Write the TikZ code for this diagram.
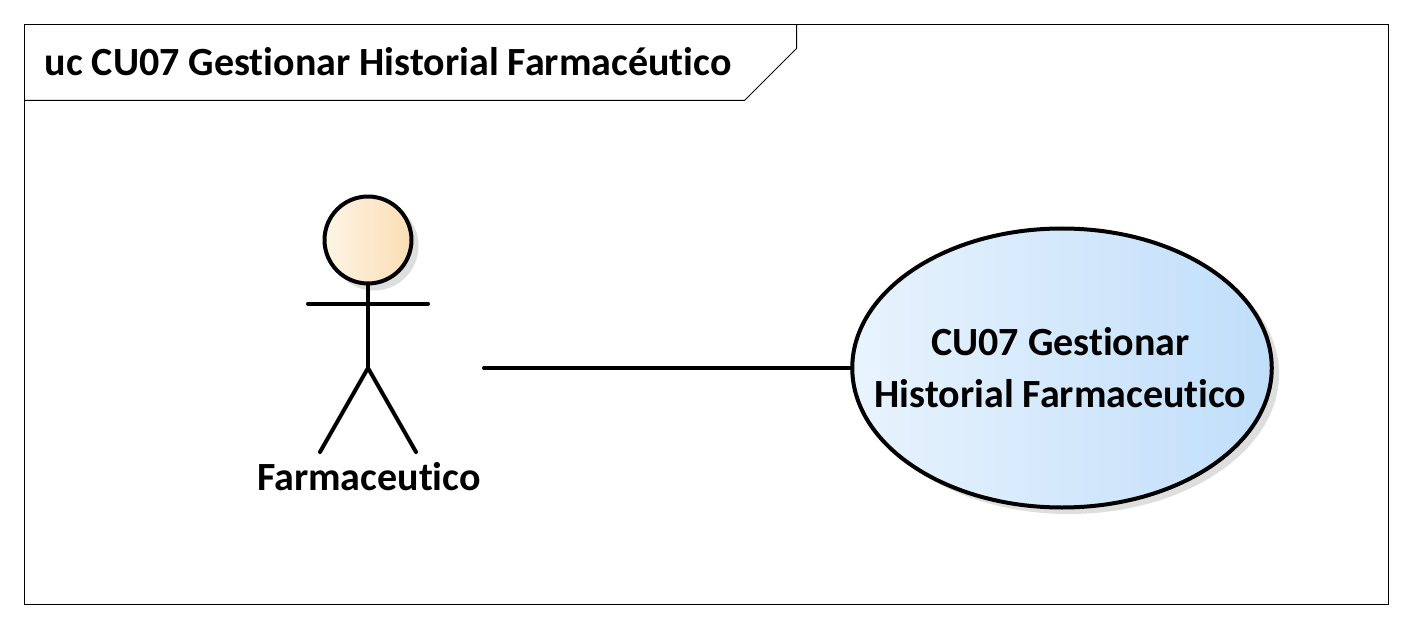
\documentclass[tikz,border=0pt]{standalone}
\usepackage{fontspec}
\setmainfont[Ligatures=NoCommon]{Carlito}
\usetikzlibrary{positioning,shapes.geometric,shadings}
\definecolor{actorleft}{RGB}{254,244,230}
\definecolor{actorfill}{RGB}{250,222,180}
\definecolor{useleft}{RGB}{232,243,253}
\definecolor{usefill}{RGB}{192,222,250}
\definecolor{shadowgray}{RGB}{222,222,222}
\begin{document}
\begin{tikzpicture}[x=1pt,y=-1pt,line cap=round]
    \tikzset{lbl/.style={font=\bfseries\fontsize{40}{52}\selectfont,align=center,inner sep=0pt}}
    \tikzset{strong/.style={draw=black,line width=4pt}}
    \useasboundingbox (0,0) rectangle (1412,628);
    \fill[white] (0,0) rectangle (1412,628);
    \draw[line width=1pt,line cap=butt] (24.5,24.5) rectangle (1388.5,604.5);
    \draw[line width=1pt,line cap=butt] (24.5,100.5) -- (744.5,100.5) -- (796.5,48.5) -- (796.5,24.5);
    \node[lbl,anchor=west] (frametitle) at (44.5,62) {uc CU07 Gestionar Historial Farmacéutico};
    % actor
    \fill[shadowgray] (374,246) circle (44.5pt);
    \node[circle,strong,minimum size=87pt,inner sep=0pt,left color=actorleft,right color=actorfill] (head) at (368,240) {};
    \coordinate (hip) at (368,368);
    \coordinate (armL) at (308,303.5);
    \coordinate (armR) at (428,303.5);
    \coordinate (footL) at (320,452);
    \coordinate (footR) at (416,452);
    \draw[strong] (head) -- (hip);
    \draw[strong] (armL) -- (armR);
    \draw[strong] (footL) -- (hip) -- (footR);
    \node[lbl] (actorname) at (369,477) {Farmaceutico};
    % use case
    \fill[shadowgray] (1069,374) ellipse (210pt and 140pt);
    \node[ellipse,strong,minimum width=419.5pt,minimum height=279pt,inner sep=0pt,left color=useleft,right color=usefill] (usecase) at (1062,368) {};
    \node[lbl] (usename) at (1060.5,367.5) {CU07 Gestionar\\Historial Farmaceutico};
    \coordinate (assocstart) at (484,368);
    \draw[strong] (assocstart) -- (usecase.west);
\end{tikzpicture}
\end{document}
